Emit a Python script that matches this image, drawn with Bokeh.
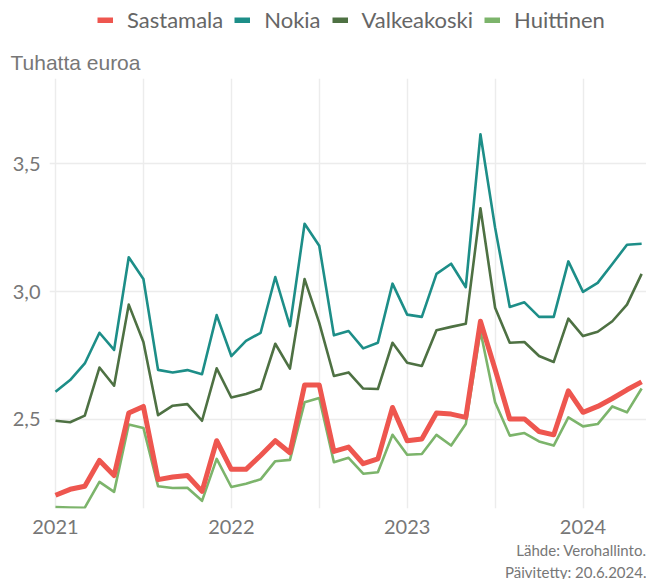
from datetime import date
from bokeh.plotting import figure
from bokeh.layouts import column
from bokeh.models import (Range1d, FixedTicker, CustomJSTickFormatter, Legend, LegendItem,
                          Title, ColumnDataSource)
from bokeh.embed import file_html
from bokeh.resources import INLINE

# ---- data (thousand euros, monthly Jan 2021 - May 2024) ----
start_year, start_month, n_months = 2021, 1, 41
sastamala = [2.204, 2.227, 2.239, 2.340, 2.281, 2.525, 2.551, 2.265, 2.275, 2.281, 2.219, 2.417,
             2.305, 2.305, 2.359, 2.417, 2.370, 2.635, 2.635, 2.375, 2.392, 2.327, 2.346, 2.547,
             2.417, 2.424, 2.525, 2.521, 2.508, 2.884, 2.696, 2.502, 2.502, 2.453, 2.440, 2.612,
             2.528, 2.551, 2.582, 2.616, 2.647]
nokia = [2.608, 2.654, 2.719, 2.839, 2.772, 3.134, 3.049, 2.694, 2.684, 2.693, 2.677, 2.908,
         2.748, 2.807, 2.839, 3.057, 2.865, 3.265, 3.179, 2.829, 2.846, 2.778, 2.800, 3.031,
         2.910, 2.901, 3.069, 3.109, 3.017, 3.615, 3.250, 2.940, 2.958, 2.901, 2.901, 3.118,
         2.999, 3.034, 3.108, 3.183, 3.187]
valkeakoski = [2.495, 2.489, 2.515, 2.703, 2.632, 2.949, 2.803, 2.517, 2.554, 2.560, 2.495, 2.700,
               2.586, 2.600, 2.619, 2.796, 2.699, 3.049, 2.878, 2.670, 2.684, 2.621, 2.619, 2.800,
               2.722, 2.709, 2.849, 2.862, 2.874, 3.326, 2.937, 2.800, 2.803, 2.748, 2.725, 2.894,
               2.826, 2.843, 2.884, 2.949, 3.069]
huittinen = [2.158, 2.156, 2.155, 2.256, 2.217, 2.480, 2.467, 2.239, 2.232, 2.233, 2.182, 2.346,
             2.236, 2.249, 2.266, 2.337, 2.342, 2.567, 2.584, 2.333, 2.350, 2.288, 2.294, 2.440,
             2.362, 2.365, 2.440, 2.398, 2.482, 2.845, 2.567, 2.437, 2.447, 2.414, 2.398, 2.508,
             2.473, 2.482, 2.551, 2.528, 2.621]
series_names = ["Sastamala", "Nokia", "Valkeakoski", "Huittinen"]
series_colors = ["#EE564F", "#1D8E88", "#4E7143", "#7CB46B"]
year_ticks = [2021, 2022, 2023, 2024]
y_ticks = [2.5, 3.0, 3.5]
title_text = "Tuhatta euroa"
source_text = "Lähde: Verohallinto."
updated_text = "Päivitetty: 20.6.2024."

# month positions as fractional years
dates = []
y, m = start_year, start_month
for _ in range(n_months):
    dates.append(date(y, m, 1))
    m += 1
    if m > 12:
        m, y = 1, y + 1
xs = [d.year + (d.month - 1) / 12 for d in dates]

src = ColumnDataSource(dict(x=xs, Sastamala=sastamala, Nokia=nokia,
                            Valkeakoski=valkeakoski, Huittinen=huittinen))

GREY = "#777777"
TOTAL_W = 646

# ---------- legend strip (separate small figure) ----------
lg = figure(width=TOTAL_W, height=40, output_backend="svg", toolbar_location=None,
            x_range=Range1d(0, 1), y_range=Range1d(0, 1),
            x_axis_location=None, y_axis_location=None,
            min_border_left=0, min_border_right=0, min_border_top=0, min_border_bottom=0)
lg.outline_line_color = None
lg.xgrid.visible = False
lg.ygrid.visible = False
items = []
nan = float("nan")
for name, col in zip(series_names, series_colors):
    r = lg.line(x=[nan], y=[nan], line_color=col, line_width=6)
    items.append(LegendItem(label=name, renderers=[r]))
legend = Legend(items=items, orientation="horizontal", location=(48, 7),
                glyph_width=16, glyph_height=6, label_standoff=14, spacing=11,
                padding=0, margin=0, border_line_color=None, background_fill_alpha=0,
                label_text_font="Lato", label_text_font_size="22px", label_text_color="#666666")
lg.add_layout(legend)

# ---------- main chart ----------
p = figure(frame_width=597, frame_height=430, output_backend="svg", toolbar_location=None,
           x_range=Range1d(2020.966, 2024.361), y_range=Range1d(2.152, 3.833),
           min_border_left=49, min_border_right=0, min_border_top=38, min_border_bottom=0)
p.outline_line_color = None
p.background_fill_color = "white"
p.border_fill_color = "white"

widths = {"Sastamala": 5, "Nokia": 2.6, "Valkeakoski": 2.6, "Huittinen": 2.6}
for name, col in reversed(list(zip(series_names, series_colors))):
    p.line("x", name, source=src, line_color=col, line_width=widths[name], line_join="round")

p.xaxis.ticker = FixedTicker(ticks=year_ticks,
                             minor_ticks=[yv + 0.5 for yv in year_ticks[:-1]] + [year_ticks[0] - 0.5])
p.xaxis.formatter = CustomJSTickFormatter(code="return tick.toFixed(0);")
p.yaxis.ticker = FixedTicker(ticks=y_ticks)
p.yaxis.formatter = CustomJSTickFormatter(code="return tick.toFixed(1).replace('.', ',');")
for ax in (p.xaxis, p.yaxis):
    ax.axis_line_color = None
    ax.major_tick_line_color = None
    ax.minor_tick_line_color = None
    ax.major_label_text_color = GREY
    ax.major_label_text_font = "Lato"
p.xaxis.major_label_text_font_size = "20px"
p.yaxis.major_label_text_font_size = "20px"
p.xaxis.major_label_standoff = 5
p.yaxis.major_label_standoff = 3

p.xgrid.grid_line_color = "#ececec"
p.xgrid.grid_line_width = 1.5
p.xgrid.minor_grid_line_color = "#ececec"
p.xgrid.minor_grid_line_width = 1.5
p.ygrid.grid_line_color = "#ececec"
p.ygrid.grid_line_width = 1.5

p.add_layout(Title(text=title_text, align="left", offset=-39, text_font="Liberation Sans",
                   text_font_size="21px", text_font_style="normal", text_color=GREY, standoff=10), "above")

p.add_layout(Title(text=source_text, align="right", text_font="Lato", text_font_size="15px",
                   text_font_style="normal", text_color=GREY, standoff=4), "below")
p.add_layout(Title(text=updated_text, align="right", text_font="Lato", text_font_size="15px",
                   text_font_style="normal", text_color=GREY, standoff=0), "below")

open("out.html", "w").write(file_html(column(lg, p, spacing=0), INLINE))
